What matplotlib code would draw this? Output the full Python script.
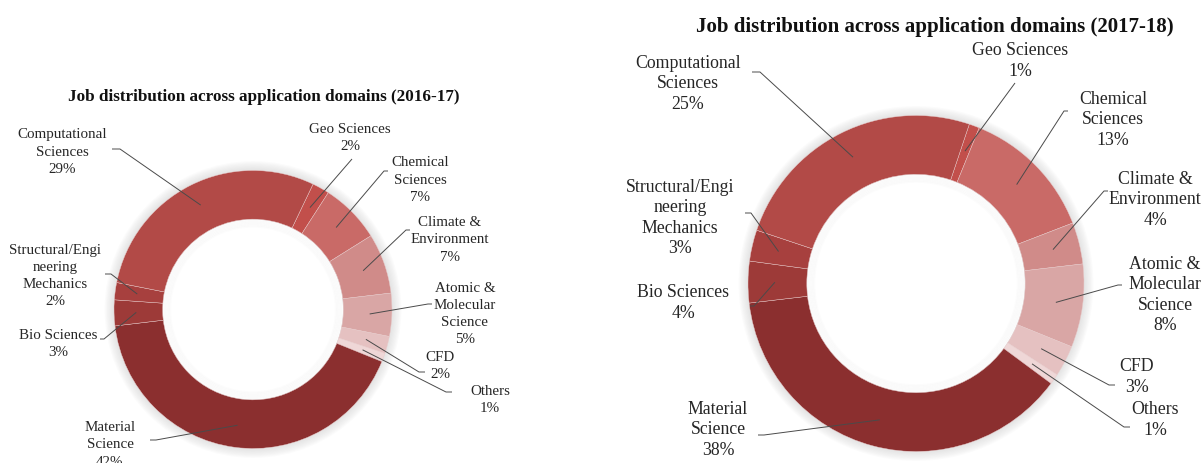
import numpy as np
import matplotlib
matplotlib.use("Agg")
import matplotlib.pyplot as plt

# domains in clockwise order, starting with Geo Sciences
domains = ["Geo Sciences", "Chemical\nSciences", "Climate &\nEnvironment",
           "Atomic &\nMolecular\nScience", "CFD", "Others", "Material\nScience",
           "Bio Sciences", "Structural/Engi\nneering\nMechanics", "Computational\nSciences"]
share_1617 = [2, 7, 7, 5, 2, 1, 42, 3, 2, 29]
share_1718 = [1, 13, 4, 8, 3, 1, 38, 4, 3, 25]

colors = ["#c24f4b", "#c96a67", "#d08b89", "#d9a6a5", "#e5c1c1", "#efd7d7",
          "#8b2f2f", "#9d3a38", "#a7403e", "#b24a47"]

W, H = 1202, 464
fig = plt.figure(figsize=(W / 100, H / 100), dpi=100)
ax = fig.add_axes([0, 0, 1, 1])

serif = ["Liberation Serif", "DejaVu Serif"]


def py(y):
    # pixel rows run downward, data y runs upward
    return H - y


def donut(values, cx, cy, r, start, title, title_xy, title_size, font_size,
          spacing, labels_xy, anchors):
    wedges, _ = ax.pie(values, colors=colors, radius=r, center=(cx, py(cy)),
                       startangle=90 - start, counterclock=False,
                       wedgeprops=dict(width=0.35 * r, edgecolor="#e9cccc",
                                       linewidth=0.3))
    # soft shadow ring behind the donut
    for k in range(8):
        ring = plt.Circle((cx, py(cy)), r + 1 + k * 1.2, color="#b0b0b0",
                          alpha=0.045, zorder=0, lw=0)
        ax.add_patch(ring)
    hole = plt.Circle((cx, py(cy)), 0.65 * r - 0.3, color="white", zorder=1,
                      lw=0)
    ax.add_patch(hole)
    for k in range(6):
        ring = plt.Circle((cx, py(cy)), 0.65 * r - 1 - k * 1.3, fill=False,
                          ec="#c8c8c8", alpha=0.05, lw=1.3, zorder=1.5)
        ax.add_patch(ring)
    for w in wedges:
        w.set_zorder(2)

    ax.text(title_xy[0], py(title_xy[1]), title, ha="center", va="center",
            fontsize=title_size, fontweight="bold", family=serif,
            color="#111111")

    for w, name, v, (lx, ly), (ax0, ay0, tick) in zip(
            wedges, domains, values, labels_xy, anchors):
        mid = np.deg2rad((w.theta1 + w.theta2) / 2)
        ex = cx + 0.84 * r * np.cos(mid)
        ey = py(cy) + 0.84 * r * np.sin(mid)
        ax.text(lx, py(ly), f"{name}\n{v}%", ha="center", va="center",
                fontsize=font_size, family=serif, color="#262626",
                linespacing=spacing, zorder=4)
        ax.plot([ax0, ax0 + tick, ex], [py(ay0), py(ay0), ey],
                color="#4a4a4a", lw=0.7, zorder=3, solid_capstyle="butt")


# left donut (2016-17)
labels_l = [(350, 138), (420, 180), (450, 240), (465, 314), (440, 366),
            (490, 400), (110, 445), (58, 344), (55, 276), (62, 152)]
anchors_l = [(352, 160, 0), (388, 172, -4), (410, 231, -4), (432, 305, -4),
             (425, 373, -6), (452, 393, -6), (150, 441, 6), (100, 340, 4),
             (105, 275, 6), (112, 150, 8)]
donut(share_1617, 253, 310.5, 139, 25.6,
      "Job distribution across application domains (2016-17)",
      (264, 97), 12.3, 10.8, 1.42, labels_l, anchors_l)

# right donut (2017-18)
labels_r = [(1020, 61), (1113, 120), (1155, 200), (1165, 295), (1137, 377),
            (1155, 420), (718, 430), (683, 303), (680, 218), (688, 84)]
anchors_r = [(1015, 84, 0), (1068, 112, -4), (1108, 192, -4), (1122, 286, -4),
             (1115, 386, -6), (1130, 428, -6), (758, 436, 6), (750, 307, 4),
             (745, 214, 6), (752, 73, 8)]
donut(share_1718, 916, 284.5, 168, 18.5,
      "Job distribution across application domains (2017-18)",
      (935, 27), 15.0, 12.8, 1.25, labels_r, anchors_r)

ax.set_aspect("auto")
ax.set_xlim(0, W)
ax.set_ylim(0, H)
ax.axis("off")

fig.savefig("out.png", dpi=100, facecolor="white")
